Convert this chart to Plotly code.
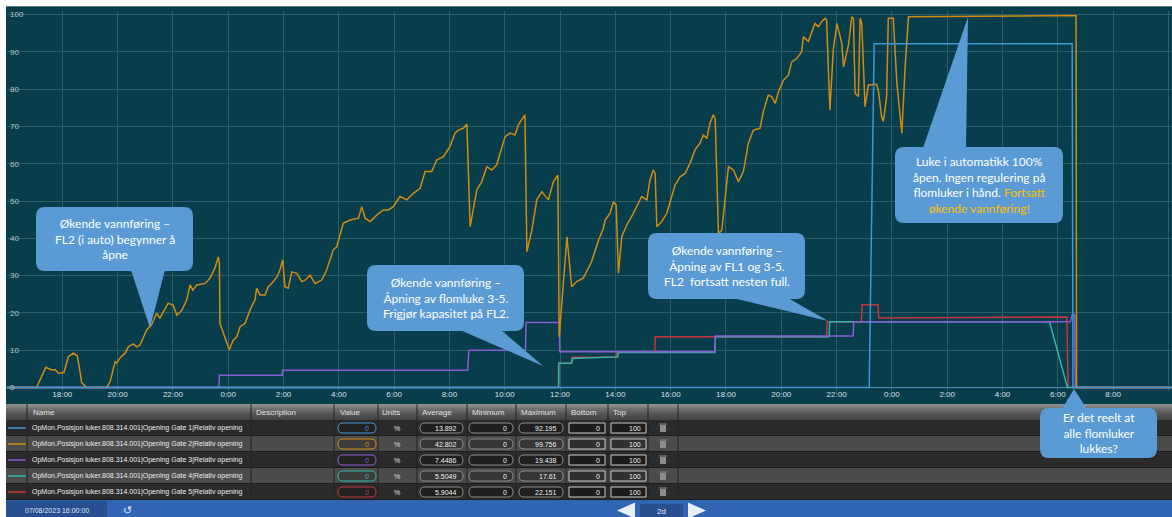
import plotly.graph_objects as go
import pandas as pd

W, H = 1172, 517
START = pd.Timestamp("2023-07-08 16:00")

# ---- trend data: hours after window start, relative opening in % ----
gate1_hours = [0, 31.18, 31.36, 38.52, 38.55, 42.2]
gate1_values = [0, 0, 92.195, 92.195, 0, 0]

gate2_hours = [
    0, 1.07, 1.40, 1.62, 1.74, 1.86, 2.06, 2.22, 2.40, 2.54, 2.61, 2.70, 2.88, 3.61,
    3.73, 3.91, 3.97, 4.09, 4.27, 4.39, 4.57, 4.69, 4.81, 4.93, 5.05, 5.23, 5.41, 5.53,
    5.65, 5.83, 6.01, 6.14, 6.32, 6.50, 6.62, 6.72, 6.86, 7.16, 7.34, 7.52, 7.64, 7.68,
    7.70, 7.82, 7.95, 8.04, 8.18, 8.31, 8.43, 8.61, 8.79, 8.97, 9.03, 9.15, 9.33, 9.45,
    9.57, 9.75, 9.87, 9.97, 10.05, 10.17, 10.30, 10.48, 10.66, 10.78, 10.96, 11.14,
    11.38, 11.56, 11.80, 11.92, 12.16, 12.41, 12.71, 12.83, 12.95, 13.13, 13.37, 13.61,
    13.79, 13.97, 14.21, 14.46, 14.68, 14.94, 15.12, 15.36, 15.54, 15.78, 16.02, 16.20,
    16.32, 16.50, 16.63, 16.68, 16.75, 16.99, 17.17, 17.35, 17.53, 17.71, 17.83, 18.01,
    18.19, 18.37, 18.49, 18.61, 18.73, 18.80, 18.98, 19.16, 19.34, 19.58, 19.76, 19.92,
    19.97, 20.25, 20.42, 20.60, 20.84, 21.14, 21.39, 21.57, 21.63, 21.81, 21.93, 22.03,
    22.11, 22.23, 22.41, 22.65, 22.77, 22.95, 23.14, 23.25, 23.37, 23.44, 23.50, 23.68,
    23.86, 24.04, 24.16, 24.34, 24.52, 24.70, 24.88, 25.06, 25.18, 25.31, 25.42, 25.54,
    25.61, 25.73, 25.85, 26.09, 26.27, 26.45, 26.63, 26.81, 26.99, 27.23, 27.35, 27.53,
    27.65, 27.78, 27.90, 28.08, 28.26, 28.38, 28.56, 28.74, 28.80, 28.98, 29.10, 29.22,
    29.34, 29.46, 29.58, 29.64, 29.70, 29.76, 29.88, 30.01, 30.19, 30.25, 30.43, 30.55,
    30.61, 30.67, 30.79, 30.85, 30.91, 31.03, 31.15, 31.45, 31.51, 31.63, 31.69, 31.81,
    31.87, 32.05, 32.18, 32.36, 32.48, 32.60, 38.66, 38.68, 42.2,
]
gate2_values = [
    0, 0, 5.4, 4.7, 4.8, 3.8, 4.0, 8.3, 9.2, 8.5, 5.6, 1.3, 0, 0,
    1.6, 6.9, 6.6, 8.0, 9.2, 10.9, 11.7, 10.9, 11.4, 13.6, 15.4, 16.8, 19.9, 18.6,
    20.3, 22.6, 22.1, 19.4, 20.6, 23.5, 27.5, 26.1, 27.5, 27.9, 29.3, 32.0, 35.0, 33.3,
    17.2, 14.5, 11.8, 10.1, 12.7, 13.6, 16.3, 17.2, 20.8, 23.5, 26.6, 24.8, 24.8, 27.0,
    27.9, 29.5, 31.5, 34.2, 27.0, 26.6, 31.0, 30.6, 28.4, 28.8, 30.1, 27.9,
    28.8, 31.5, 36.9, 37.7, 44.0, 44.9, 45.4, 48.5, 45.4, 44.5, 46.2, 47.6,
    47.6, 48.5, 51.2, 50.3, 52.0, 53.4, 57.9, 57.9, 61.0, 61.9, 64.6, 68.2,
    69.0, 69.5, 70.6, 60.1, 43.1, 53.0, 55.2, 59.2, 58.3, 59.7, 62.8, 67.2,
    68.2, 67.7, 70.4, 71.7, 73.1, 36.4, 42.2, 50.3, 52.5, 50.3, 55.2, 56.9,
    13.6, 40.4, 27.0, 28.4, 29.3, 33.7, 39.5, 42.7, 44.9, 46.7, 49.8, 48.9,
    30.6, 40.4, 43.5, 46.7, 48.5, 51.2, 50.3, 55.6, 58.3, 57.4, 43.1, 44.5,
    46.7, 51.2, 54.3, 56.5, 57.4, 60.1, 63.7, 65.5, 67.7, 66.8, 70.8, 73.1,
    72.0, 41.3, 42.2, 59.2, 58.3, 55.2, 57.9, 65.5, 69.0, 69.5, 73.9, 78.4,
    78.0, 76.2, 79.3, 82.4, 83.8, 87.3, 88.2, 90.0, 94.0, 92.8, 95.4, 97.6,
    96.7, 98.1, 99.0, 98.5, 86.0, 74.4, 90.5, 97.6, 92.3, 86.0, 91.8, 99.4,
    99.0, 78.9, 78.0, 99.0, 97.6, 75.3, 81.1, 81.3, 79.7, 72.6, 71.3, 78.0,
    99.0, 99.0, 81.6, 68.2, 86.0, 99.4, 99.756, 0, 0,
]

gate3_hours = [0, 7.66, 7.68, 9.95, 9.97, 16.66, 16.70, 18.75, 18.77, 19.97, 19.99,
               25.60, 25.62, 30.60, 30.62, 38.45, 38.52, 38.61, 38.63, 42.2]
gate3_values = [0, 0, 3.3, 3.3, 4.6, 4.6, 10.0, 10.0, 17.4, 17.4, 9.6,
                9.6, 13.8, 13.8, 17.6, 17.6, 19.438, 19.438, 0, 0]

gate4_hours = [0, 19.95, 19.96, 20.42, 20.44, 22.09, 22.11, 25.60, 25.62, 29.73, 29.75,
               37.70, 38.35, 42.2]
gate4_values = [0, 0, 6.5, 6.5, 7.8, 8.2, 9.4, 9.4, 13.6, 13.6, 17.61,
                17.61, 0, 0]

gate5_hours = [0, 19.94, 19.945, 20.41, 20.43, 22.04, 22.06, 23.43, 23.44, 29.64, 29.66,
               30.90, 30.92, 31.50, 31.52, 38.33, 38.37, 42.2]
gate5_values = [0, 0, 6.5, 6.5, 8.1, 8.1, 9.6, 9.6, 13.6, 13.6, 17.6,
                17.6, 22.151, 22.151, 18.6, 18.9, 0, 0]

# ---- table contents ----
gate_names = [f"OpMon.Posisjon luker.808.314.001|Opening Gate {i}|Relativ opening" for i in range(1, 6)]
gate_colors = ["#3f97d8", "#d08c12", "#8b5cd6", "#2fb5a5", "#c8363e"]
value_now = ["0", "0", "0", "0", "0"]
units = ["%", "%", "%", "%", "%"]
average_values = ["13.892", "42.802", "7.4486", "5.5049", "5.9044"]
minimum_values = ["0", "0", "0", "0", "0"]
maximum_values = ["92.195", "99.756", "19.438", "17.61", "22.151"]
bottom_values = ["0", "0", "0", "0", "0"]
top_values = ["100", "100", "100", "100", "100"]
header_labels = ["Name", "Description", "Value", "Units", "Average", "Minimum", "Maximum", "Bottom", "Top"]
window_start_label = "07/08/2023 16:00:00"
window_span_label = "2d"

series = [
    (gate5_hours, gate5_values, gate_colors[4]),
    (gate4_hours, gate4_values, gate_colors[3]),
    (gate3_hours, gate3_values, gate_colors[2]),
    (gate2_hours, gate2_values, gate_colors[1]),
    (gate1_hours, gate1_values, gate_colors[0]),
]


def fx(x):
    return x / W


def fy(y):
    return 1 - y / H


shapes, annotations = [], []


def add_rect(x0, y0, x1, y1, fill, line_color=None, line_width=0, layer="above"):
    shapes.append(dict(type="rect", xref="paper", yref="paper",
                       x0=fx(x0), x1=fx(x1), y0=fy(y1), y1=fy(y0),
                       fillcolor=fill, layer=layer,
                       line=dict(color=line_color or fill, width=line_width)))


def add_line(x0, y0, x1, y1, color, width=1, layer="above"):
    shapes.append(dict(type="line", xref="paper", yref="paper",
                       x0=fx(x0), x1=fx(x1), y0=fy(y0), y1=fy(y1),
                       line=dict(color=color, width=width), layer=layer))


def add_polygon(points, fill, layer="above"):
    path = "M" + " L".join(f"{fx(x):.5f},{fy(y):.5f}" for x, y in points) + " Z"
    shapes.append(dict(type="path", xref="paper", yref="paper", path=path,
                       fillcolor=fill, line=dict(width=0), layer=layer))


def add_round_rect(x0, y0, x1, y1, r, fill, line_color=None, line_width=0, layer="above"):
    def p(x, y):
        return f"{fx(x):.5f},{fy(y):.5f}"
    path = (f"M{p(x0 + r, y0)} L{p(x1 - r, y0)} Q{p(x1, y0)} {p(x1, y0 + r)} "
            f"L{p(x1, y1 - r)} Q{p(x1, y1)} {p(x1 - r, y1)} "
            f"L{p(x0 + r, y1)} Q{p(x0, y1)} {p(x0, y1 - r)} "
            f"L{p(x0, y0 + r)} Q{p(x0, y0)} {p(x0 + r, y0)} Z")
    shapes.append(dict(type="path", xref="paper", yref="paper", path=path,
                       fillcolor=fill, layer=layer,
                       line=dict(color=line_color or fill, width=line_width)))


def add_text(x, y, text, size=7, color="#e4e4e4", xanchor="left",
             family="Liberation Sans, Arial, sans-serif"):
    annotations.append(dict(xref="paper", yref="paper", x=fx(x), y=fy(y), text=text,
                            showarrow=False, xanchor=xanchor, yanchor="middle",
                            borderpad=0, font=dict(size=size, color=color, family=family)))


# ---- dark trend panel ----
add_rect(6, 6, W, 404, "#083d4b", layer="below")
add_rect(6, 6, W, 7, "#58808a", layer="below")

# ---- table header ----
header_shades = ["#8e8e8e", "#7e7e7e", "#707070", "#646464", "#5a5a5a", "#525252", "#4c4c4c", "#464646"]
for i, c in enumerate(header_shades):
    add_rect(6, 404 + 2 * i, W, 406 + 2 * i, c)
col_seps = [27, 251, 334, 378, 417, 467, 516, 566, 608, 648, 678]
header_x = [32, 255, 339, 381, 421, 471, 520, 570, 612]
for x, lab in zip(header_x, header_labels):
    add_text(x, 412, lab, size=8, color="#e2e2e2")

# ---- table rows ----
row_top = 420
row_h = 16
for i in range(5):
    y0 = row_top + i * row_h
    yc = y0 + row_h / 2
    dark = i % 2 == 0
    add_rect(6, y0, W, y0 + row_h, "#2b2b2b" if dark else "#4b4b4b")
    add_line(6, y0 + row_h - 0.5, W, y0 + row_h - 0.5, "#1c1c1c", 1)
    add_line(8, yc, 26, yc, gate_colors[i], 1.5)
    add_text(31, yc, gate_names[i], size=7, color="#ececec")
    # current value pill
    add_round_rect(338, yc - 5, 376, yc + 5, 5, "rgba(0,0,0,0.2)", gate_colors[i], 1)
    add_text(370, yc, value_now[i], size=7, color=gate_colors[i], xanchor="right")
    add_text(397, yc, units[i], size=7, color="#e4e4e4", xanchor="center")
    # statistics pills
    for (xa, xb), txt in zip([(420, 463), (469, 513), (519, 563)],
                             [average_values[i], minimum_values[i], maximum_values[i]]):
        add_round_rect(xa, yc - 5, xb, yc + 5, 5, "rgba(0,0,0,0.28)", "#8a8a8a", 1)
        add_text(xb - 5, yc, txt, size=7, color="#f2f2f2", xanchor="right")
    # scale boxes
    for (xa, xb), txt in zip([(569, 605), (611, 646)], [bottom_values[i], top_values[i]]):
        add_rect(xa, yc - 5, xb, yc + 5, "rgba(0,0,0,0.35)", "#c6c6c6", 1)
        add_text(xb - 4, yc, txt, size=7, color="#f2f2f2", xanchor="right")
    # trash icon
    add_rect(660, yc - 3, 666, yc + 4, "#8c8c8c")
    add_rect(659, yc - 4.5, 667, yc - 3.5, "#8c8c8c")

for x in col_seps:
    add_line(x, 404, x, 500, "#222222", 1)

# ---- bottom navigation bar ----
add_rect(6, 500, W, H, "#3164b2")
add_rect(6, 501, 107, H, "#284f90")
add_text(57, 510, window_start_label, size=7, color="#dfe6f2", xanchor="center")
add_text(127, 510, "↺", size=11, color="#e6ecf6", xanchor="center")
add_polygon([(617, 510.5), (635, 502.5), (635, 518.5)], "#e9eff9")
add_rect(640, 504, 683, H, "#284f90")
add_text(661.5, 511, window_span_label, size=8, color="#e6ecf6", xanchor="center")
add_polygon([(688, 502.5), (706, 510.5), (688, 518.5)], "#e9eff9")

# ---- callouts ----
CALLOUT_FILL = "#5b9bd5"
HL = "<span style='color:#ffc000'>{}</span>"
callouts = [
    dict(box=(36, 207, 193, 271), tail=[(131, 270), (150, 328), (165, 270)],
         text="Økende vannføring –<br>FL2 (i auto) begynner å<br>åpne"),
    dict(box=(367, 265, 524, 331), tail=[(460, 330), (543, 366), (501, 330)],
         text="Økende vannføring –<br>Åpning av flomluke 3-5.<br>Frigjør kapasitet på FL2."),
    dict(box=(648, 233, 805, 299), tail=[(733, 298), (828, 321), (788, 298)],
         text="Økende vannføring –<br>Åpning av FL1 og 3-5.<br>FL2  fortsatt nesten full."),
    dict(box=(895, 147, 1063, 223), tail=[(923, 148), (968, 17), (966, 148)],
         text="Luke i automatikk 100%<br>åpen. Ingen regulering på<br>flomluker i hånd. "
              + HL.format("Fortsatt") + "<br>" + HL.format("økende vannføring!")),
    dict(box=(1040, 408, 1157, 458), tail=[(1062, 409), (1074, 389), (1087, 409)],
         text="Er det reelt at<br>alle flomluker<br>lukkes?"),
]
for c in callouts:
    x0, y0, x1, y1 = c["box"]
    add_polygon(c["tail"], CALLOUT_FILL)
    add_round_rect(x0, y0, x1, y1, 9, CALLOUT_FILL)
    add_text((x0 + x1) / 2, (y0 + y1) / 2, c["text"], size=12, color="#ffffff",
             xanchor="center", family="Lato, Noto Sans, sans-serif")
    annotations[-1]["align"] = "center"

# ---- traces ----
fig = go.Figure()
for hours, values, color in series:
    t = START + pd.to_timedelta(hours, unit="h")
    fig.add_trace(go.Scatter(x=t, y=values, mode="lines",
                             line=dict(color=color, width=1.5), hoverinfo="skip"))

tick_times = pd.date_range("2023-07-08 18:00", "2023-07-10 10:00", freq="2h")

fig.update_layout(
    width=W, height=H, margin=dict(l=0, r=0, t=0, b=0),
    paper_bgcolor="white", plot_bgcolor="rgba(0,0,0,0)", showlegend=False,
    xaxis=dict(domain=[fx(7), 1], type="date",
               range=[START, START + pd.Timedelta(hours=42.13)],
               tickvals=tick_times, tickformat="%-H:%M", ticks="",
               ticklabelstandoff=-3,
               showgrid=True, gridcolor="#2c5d6a", gridwidth=1,
               zeroline=False, showline=False, fixedrange=True,
               tickfont=dict(size=8, color="#d8e0e3", family="Liberation Sans, Arial")),
    yaxis=dict(domain=[fy(391.2), fy(10.8)], range=[-1, 101],
               tickvals=list(range(0, 101, 10)), ticks="",
               ticklabelposition="inside", ticklabeloverflow="allow",
               showgrid=True, gridcolor="#2c5d6a", gridwidth=1,
               zeroline=True, zerolinecolor="#4d8fb0", zerolinewidth=1,
               showline=False, fixedrange=True,
               tickfont=dict(size=8, color="#b9c7cc", family="Liberation Sans, Arial")),
    shapes=shapes, annotations=annotations,
)

fig.write_html("out.html")
